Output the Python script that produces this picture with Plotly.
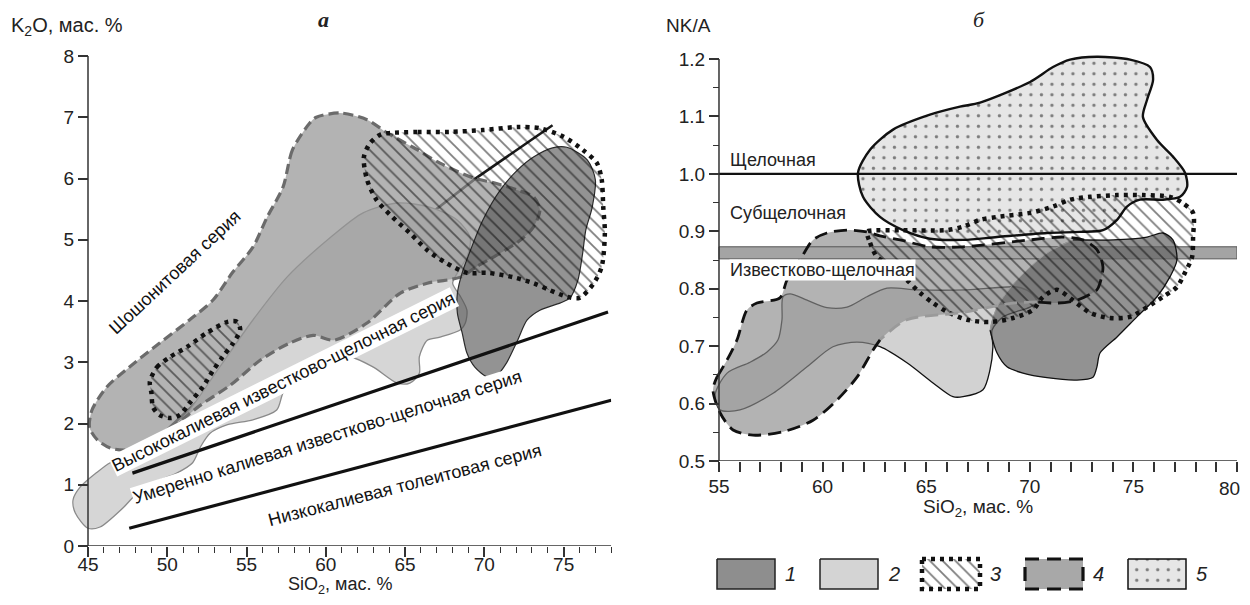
import plotly.graph_objects as go

FONT = "Liberation Sans, Arial, sans-serif"
SERIF = "Liberation Serif, DejaVu Serif, serif"

# ---------------- Panel a: K2O vs SiO2 ----------------
A_XTICKS = [45, 50, 55, 60, 65, 70, 75]
A_XMINOR = [46, 47, 48, 49, 51, 52, 53, 54, 56, 57, 58, 59, 61, 62, 63, 64,
            66, 67, 68, 69, 71, 72, 73, 74, 76, 77, 78]
A_YTICKS = [0, 1, 2, 3, 4, 5, 6, 7, 8]

# field 2 (light grey)
A2_X = [45.0, 45.76, 47.2, 48.5, 50.6, 51.6, 52.1, 52.7, 53.8, 55.4, 56.9, 57.3, 57.9, 58.8,
        59.6, 61.5, 63.0, 64.5, 65.3, 65.9, 65.9, 66.4, 67.2, 68.5, 68.8, 68.9, 68.5, 68.0,
        68.3, 68.9, 69.1, 68.3, 66.6, 64.5, 62.35, 60.3, 57.55, 55.4, 53.3, 51.25, 49.5,
        47.65, 46.4, 45.6, 44.5, 44.05, 44.2]
A2_Y = [0.29, 0.31, 0.62, 0.96, 1.19, 1.36, 1.62, 1.84, 1.98, 2.06, 2.22, 2.50, 2.71, 2.92,
        3.04, 3.09, 2.92, 2.66, 2.66, 2.82, 3.09, 3.36, 3.41, 3.53, 3.64, 3.85, 4.07, 4.29,
        4.46, 4.72, 5.04, 5.32, 5.53, 5.60, 5.44, 5.04, 4.39, 3.69, 2.92, 2.17, 1.73,
        1.49, 1.36, 1.21, 0.96, 0.75, 0.54]
# field 4 (grey, dashed)
A4_X = [59.0, 57.9, 57.3, 56.3, 55.4, 54.1, 52.9, 51.4, 49.5, 47.6, 46.2, 45.25, 45.1, 45.6,
        46.4, 47.5, 48.9, 50.5, 52.1, 54.0, 55.9, 57.7, 59.2, 60.5, 62.6, 64.7, 66.4, 68.5,
        69.5, 71.0, 72.3, 73.1, 73.5, 73.1, 72.1, 70.6, 69.3, 67.2, 65.5, 63.9, 62.6, 60.9, 59.4]
A4_Y = [6.91, 6.47, 5.86, 5.37, 4.88, 4.46, 4.02, 3.69, 3.31, 2.92, 2.60, 2.22, 1.93, 1.73,
        1.60, 1.57, 1.73, 1.98, 2.30, 2.63, 3.04, 3.31, 3.44, 3.36, 3.64, 4.13, 4.29, 4.39,
        4.56, 4.78, 5.00, 5.21, 5.49, 5.70, 5.81, 5.93, 6.01, 6.25, 6.51, 6.74, 6.96, 7.07, 7.00]
# field 1 (dark grey)
A1_X = [75.2, 76.5, 77.0, 76.8, 76.4, 76.2, 75.9, 75.4, 74.8, 73.5, 72.7, 72.1, 71.4, 70.8,
        70.2, 69.4, 68.9, 68.6, 68.3, 68.3, 68.6, 69.2, 69.9, 71.0, 72.1, 73.1, 74.3]
A1_Y = [6.51, 6.30, 5.98, 5.53, 5.16, 4.78, 4.34, 4.05, 3.97, 3.85, 3.69, 3.36, 2.99, 2.79,
        2.76, 2.92, 3.15, 3.48, 3.80, 4.13, 4.46, 4.88, 5.32, 5.81, 6.14, 6.35, 6.50]
# field 3 (hatched, dotted) - two parts
A3A_X = [63.9, 65.8, 67.8, 69.9, 72.1, 73.5, 75.0, 76.2, 77.1, 77.4, 77.5, 77.6, 77.4, 76.9,
         76.0, 75.2, 74.1, 73.1, 71.8, 70.2, 68.9, 67.6, 66.4, 65.3, 64.2, 63.2, 62.6, 62.4,
         62.8, 63.4]
A3A_Y = [6.74, 6.76, 6.76, 6.79, 6.84, 6.82, 6.68, 6.47, 6.25, 5.98, 5.53, 5.11, 4.56, 4.29,
         4.05, 4.07, 4.18, 4.29, 4.39, 4.46, 4.46, 4.62, 4.83, 5.11, 5.37, 5.65, 5.98, 6.35,
         6.58, 6.71]
A3B_X = [48.9, 49.35, 50.2, 51.25, 52.5, 53.8, 54.4, 54.6, 54.15, 53.5, 52.9, 52.25, 51.4,
         50.8, 50.2, 49.5, 49.1, 49.0]
A3B_Y = [2.68, 2.92, 3.09, 3.25, 3.48, 3.66, 3.66, 3.53, 3.31, 3.09, 2.87, 2.60, 2.33,
         2.14, 2.09, 2.14, 2.27, 2.50]
# series boundary lines
SHO_X = [48.3, 49.5, 56.5, 64.7, 69.5, 74.3]
SHO_Y = [1.57, 1.78, 3.48, 5.04, 6.01, 6.87]
HK_X = [47.8, 77.8]
HK_Y = [1.19, 3.82]
LK_X = [47.6, 78.0]
LK_Y = [0.29, 2.38]
A_LABELS = ["Шошонитовая серия", "Высококалиевая известково-щелочная серия",
            "Умеренно калиевая известково-щелочная серия", "Низкокалиевая толеитовая серия"]
A_LAB_X = [50.5, 57.3, 60.1, 65.0]
A_LAB_Y = [4.47, 2.68, 1.78, 1.00]
A_LAB_ANG = [-43, -26.5, -17.5, -14.5]

# ---------------- Panel б: NK/A vs SiO2 ----------------
B_XTICKS = [55, 60, 65, 70, 75, 80]
B_XMINOR = [56, 57, 58, 59, 61, 62, 63, 64, 66, 67, 68, 69, 71, 72, 73, 74, 76, 77, 78, 79]
B_YTICKS = [0.5, 0.6, 0.7, 0.8, 0.9, 1.0, 1.1, 1.2]
B_YMINOR = [0.55, 0.65, 0.75, 0.85, 0.95, 1.05, 1.15]

B2_X = [54.81, 55.39, 56.50, 57.32, 57.85, 58.04, 58.09, 58.43, 59.25, 60.21, 61.18, 62.14,
        63.11, 64.56, 66.97, 69.38, 70.01, 70.35, 70.01, 68.71, 68.18, 68.22, 68.08, 67.74,
        66.78, 66.29, 65.33, 64.07, 62.77, 61.66, 60.50, 59.25, 57.61, 56.01, 55.05]
B2_Y = [0.615, 0.653, 0.672, 0.690, 0.711, 0.746, 0.786, 0.791, 0.780, 0.767, 0.768, 0.786,
        0.801, 0.798, 0.798, 0.803, 0.794, 0.777, 0.768, 0.751, 0.728, 0.699, 0.659, 0.624,
        0.612, 0.612, 0.636, 0.671, 0.699, 0.707, 0.699, 0.664, 0.618, 0.589, 0.589]
B4_X = [54.90, 55.39, 55.87, 56.35, 56.83, 57.94, 58.28, 58.91, 59.54, 60.21, 61.18, 62.14,
        62.77, 63.74, 65.18, 66.78, 70.01, 71.60, 72.57, 73.24, 73.53, 73.39, 73.24, 72.28,
        71.31, 70.35, 69.19, 66.63, 64.07, 62.77, 62.43, 61.66, 60.69, 59.54, 58.09, 56.64,
        55.68, 55.05, 54.71]
B4_Y = [0.646, 0.676, 0.711, 0.763, 0.775, 0.784, 0.815, 0.850, 0.885, 0.897, 0.902, 0.899,
        0.892, 0.885, 0.873, 0.873, 0.885, 0.890, 0.885, 0.868, 0.838, 0.810, 0.798, 0.780,
        0.775, 0.777, 0.775, 0.758, 0.746, 0.711, 0.693, 0.646, 0.606, 0.571, 0.551, 0.545,
        0.554, 0.584, 0.624]
B4_GREY = (25, 29)  # indices of the outline part drawn in grey
B1_X = [68.08, 68.42, 69.38, 70.83, 72.08, 74.02, 75.66, 76.43, 76.91, 77.10, 76.77, 76.14,
        75.17, 74.21, 73.39, 73.24, 73.05, 72.28, 70.83, 69.67, 68.90, 68.42]
B1_Y = [0.728, 0.768, 0.815, 0.862, 0.885, 0.885, 0.890, 0.897, 0.885, 0.850, 0.821, 0.786,
        0.751, 0.716, 0.688, 0.664, 0.646, 0.641, 0.645, 0.653, 0.664, 0.688]
B3_X = [62.14, 62.29, 62.63, 63.25, 64.07, 64.70, 65.33, 66.00, 66.97, 68.08, 69.19, 70.15,
        70.64, 71.31, 72.08, 72.91, 73.87, 74.84, 75.66, 76.43, 77.10, 77.49, 77.83, 77.88,
        77.88, 77.39, 76.77, 75.46, 74.21, 72.91, 71.94, 71.12, 70.01, 68.42, 67.60, 66.78,
        66.00, 63.74, 62.29]
B3_Y = [0.899, 0.880, 0.855, 0.841, 0.815, 0.793, 0.775, 0.760, 0.746, 0.742, 0.749, 0.763,
        0.786, 0.798, 0.780, 0.758, 0.749, 0.751, 0.768, 0.786, 0.803, 0.828, 0.855, 0.890,
        0.932, 0.949, 0.960, 0.963, 0.963, 0.960, 0.955, 0.943, 0.932, 0.925, 0.920, 0.908,
        0.902, 0.902, 0.901]
B5_X = [66.63, 65.18, 63.40, 62.29, 61.71, 61.95, 62.77, 63.88, 65.18, 66.78, 68.42, 70.83,
        72.42, 73.53, 74.21, 74.69, 75.32, 76.43, 77.25, 77.59, 77.49, 76.91, 76.14, 75.46,
        75.66, 75.95, 75.80, 74.84, 73.24, 71.94, 71.12, 70.01, 67.60]
B5_Y = [1.117, 1.103, 1.077, 1.042, 1.002, 0.960, 0.925, 0.902, 0.887, 0.885, 0.890, 0.897,
        0.899, 0.902, 0.920, 0.943, 0.955, 0.955, 0.960, 0.977, 1.002, 1.030, 1.059, 1.099,
        1.129, 1.164, 1.186, 1.199, 1.204, 1.199, 1.186, 1.160, 1.124]
ALK_LINE = 1.0
BAND_LO, BAND_HI = 0.852, 0.873
B_LABELS = ["Щелочная", "Субщелочная", "Известково-щелочная"]
B_LAB_Y = [1.024, 0.932, 0.833]

LEGEND_NUMS = ["1", "2", "3", "4", "5"]

# ---------------- page geometry ----------------
# the page body has an 8 px margin, so the figure is sized to the remaining area and
# all layout positions below are given in page pixels and converted.
OFF = 8
W, H = 1250 - 2 * OFF, 605 - 2 * OFF


def px_x(px):
    return (px - OFF) / W


def px_y(py):
    return 1 - (py - OFF) / H


fig = go.Figure()


def closed(x, y):
    return list(x) + [x[0]], list(y) + [y[0]]


def field(x, y, xa, ya, fill, lcolor, lwidth, dash=None, pattern=None):
    cx, cy = closed(x, y)
    kw = {}
    if pattern is not None:
        kw["fillpattern"] = pattern
    fig.add_trace(go.Scatter(
        x=cx, y=cy, xaxis=xa, yaxis=ya, mode="lines", fill="toself",
        fillcolor=fill,
        line=dict(color=lcolor, width=lwidth, dash=dash, shape="spline", smoothing=0.8),
        hoverinfo="skip", showlegend=False, **kw))


def line(x, y, xa, ya, color, width, dash=None, spline=True):
    fig.add_trace(go.Scatter(
        x=x, y=y, xaxis=xa, yaxis=ya, mode="lines",
        line=dict(color=color, width=width, dash=dash,
                  shape="spline" if spline else "linear", smoothing=0.8),
        hoverinfo="skip", showlegend=False))


HATCH = dict(shape="\\", size=9, solidity=0.2, fgcolor="#000", bgcolor="rgba(0,0,0,0)")
DOTS = dict(shape=".", size=10.5, solidity=0.08, fgcolor="#111", bgcolor="#e6e6e6")
DOTTED = "4px,5px"

# ---- panel a traces ----
line(SHO_X, SHO_Y, "x", "y", "#1a1a1a", 2.6, spline=False)
field(A2_X, A2_Y, "x", "y", "#d6d6d6", "#8a8a8a", 1.3)
field(A4_X, A4_Y, "x", "y", "rgba(150,150,150,0.72)", "#6b6b6b", 3.2, dash="10px,5px")
field(A1_X, A1_Y, "x", "y", "rgba(80,80,80,0.62)", "#2a2a2a", 1.2)
field(A3A_X, A3A_Y, "x", "y", "rgba(0,0,0,0)", "#111", 4.5, dash=DOTTED, pattern=HATCH)
field(A3B_X, A3B_Y, "x", "y", "rgba(0,0,0,0)", "#111", 4.5, dash=DOTTED, pattern=HATCH)
line(HK_X, HK_Y, "x", "y", "#111", 3.2, spline=False)
line(LK_X, LK_Y, "x", "y", "#111", 3.2, spline=False)

# ---- panel б traces ----
field(B2_X, B2_Y, "x2", "y2", "#d2d2d2", "#111", 1.3)
field(B4_X, B4_Y, "x2", "y2", "rgba(140,140,140,0.66)", "rgba(0,0,0,0)", 0)
bx = [B_XTICKS[0], B_XTICKS[-1], B_XTICKS[-1], B_XTICKS[0]]
by = [BAND_LO, BAND_LO, BAND_HI, BAND_HI]
fig.add_trace(go.Scatter(x=bx + [bx[0]], y=by + [by[0]], xaxis="x2", yaxis="y2", mode="lines",
                         fill="toself", fillcolor="#a4a4a4", line=dict(color="#555", width=1),
                         hoverinfo="skip", showlegend=False))
field(B1_X, B1_Y, "x2", "y2", "rgba(100,100,100,0.7)", "rgba(0,0,0,0)", 0)
line(B1_X[4:] + [B1_X[0]], B1_Y[4:] + [B1_Y[0]], "x2", "y2", "#111", 1.3)
line(B1_X[:5], B1_Y[:5], "x2", "y2", "#9a9a9a", 1.0)
field(B5_X, B5_Y, "x2", "y2", "#e6e6e6", "#111", 2.4, pattern=DOTS)
field(B3_X, B3_Y, "x2", "y2", "rgba(0,0,0,0)", "#111", 4.5, dash=DOTTED, pattern=HATCH)
g0, g1 = B4_GREY
line(B4_X[:g0 + 1], B4_Y[:g0 + 1], "x2", "y2", "#111", 2.8, dash="13px,7px")
line(B4_X[g0:g1 + 1], B4_Y[g0:g1 + 1], "x2", "y2", "#9a9a9a", 2.8, dash="13px,7px")
line(B4_X[g1:] + [B4_X[0]], B4_Y[g1:] + [B4_Y[0]], "x2", "y2", "#111", 2.8, dash="13px,7px")
line([B_XTICKS[0], B_XTICKS[-1]], [ALK_LINE, ALK_LINE], "x2", "y2", "#111", 2.2, spline=False)

# ---- legend swatches (overlay axes in page pixels) ----
SW_X0 = [717, 820, 922, 1025, 1128]
SW_W = 58
SW_Y0, SW_Y1 = 559, 589
sw_styles = [
    dict(fill="#8e8e8e", lc="#222", lw=1.5, dash=None, pat=None),
    dict(fill="#d4d4d4", lc="#222", lw=1.5, dash=None, pat=None),
    dict(fill="rgba(0,0,0,0)", lc="#111", lw=4.5, dash=DOTTED, pat=HATCH),
    dict(fill="#a8a8a8", lc="#111", lw=3.2, dash="14px,8px", pat=None),
    dict(fill="#e6e6e6", lc="#111", lw=1.5, dash=None, pat=DOTS),
]
for x0, st, num in zip(SW_X0, sw_styles, LEGEND_NUMS):
    sx = [x0, x0 + SW_W, x0 + SW_W, x0, x0]
    sy = [SW_Y0, SW_Y0, SW_Y1, SW_Y1, SW_Y0]
    kw = {"fillpattern": st["pat"]} if st["pat"] else {}
    fig.add_trace(go.Scatter(x=sx, y=sy, xaxis="x3", yaxis="y3", mode="lines", fill="toself",
                             fillcolor=st["fill"],
                             line=dict(color=st["lc"], width=st["lw"], dash=st["dash"]),
                             hoverinfo="skip", showlegend=False, **kw))
    fig.add_annotation(x=x0 + SW_W + 8, y=(SW_Y0 + SW_Y1) / 2, xref="x3", yref="y3",
                       text=f"<i>{num}</i>", showarrow=False, xanchor="left",
                       font=dict(family=FONT, size=20, color="#222"))

# ---- annotations ----
for t, x, y, a in zip(A_LABELS, A_LAB_X, A_LAB_Y, A_LAB_ANG):
    kw = {"bgcolor": "white"} if ("известково" in t) else {}
    fig.add_annotation(x=x, y=y, xref="x", yref="y", text=t, textangle=a, showarrow=False,
                       borderpad=0, font=dict(family=FONT, size=18, color="#111"), **kw)
for i, (t, y) in enumerate(zip(B_LABELS, B_LAB_Y)):
    kw = {"bgcolor": "white"} if i == 2 else {}
    fig.add_annotation(x=55.5, y=y, xref="x2", yref="y2", text=t, showarrow=False,
                       xanchor="left", borderpad=0,
                       font=dict(family=FONT, size=18, color="#222"), **kw)


def paper_ann(text, px, py, anchor="center", font=FONT, size=19):
    fig.add_annotation(x=px_x(px), y=px_y(py), xref="paper", yref="paper", text=text,
                       showarrow=False, xanchor=anchor, yanchor="middle",
                       font=dict(family=font, size=size, color="#222"))


paper_ann("K<sub>2</sub>O, мас. %", 9, 27, anchor="left", size=20)
paper_ann("<b><i>а</i></b>", 323, 20, font=SERIF, size=22)
paper_ann("NK/A", 664, 26, anchor="left")
paper_ann("<i>б</i>", 979, 20, font=SERIF, size=22)
paper_ann("SiO<sub>2</sub>, мас. %", 340, 585, size=18)
paper_ann("SiO<sub>2</sub>, мас. %", 978, 508)
# last tick label of panel б sits at the page edge; keep it fully visible
fig.add_annotation(x=1, y=px_y(488), xref="paper", yref="paper", text=str(B_XTICKS[-1]),
                   showarrow=False, xanchor="right", yanchor="middle",
                   font=dict(family=FONT, size=19, color="#222"))

# ---- axis lines as shapes ----
AX = dict(color="#333", width=1.5)
fig.add_shape(type="line", xref="x", yref="y", x0=A_XTICKS[0], x1=A_XMINOR[-1], y0=0, y1=0, line=AX)
fig.add_shape(type="line", xref="x", yref="y", x0=A_XTICKS[0], x1=A_XTICKS[0], y0=0, y1=A_YTICKS[-1], line=AX)
fig.add_shape(type="line", xref="x2", yref="y2", x0=B_XTICKS[0], x1=B_XTICKS[-1], y0=B_YTICKS[0], y1=B_YTICKS[0], line=AX)
fig.add_shape(type="line", xref="x2", yref="y2", x0=B_XTICKS[0], x1=B_XTICKS[0], y0=B_YTICKS[0], y1=B_YTICKS[-1], line=AX)

tickfont = dict(family=FONT, size=19, color="#222")
common = dict(showgrid=False, zeroline=False, showline=False, ticks="outside", ticklen=10,
              tickwidth=1.5, tickcolor="#333", tickfont=tickfont, fixedrange=True,
              automargin=False)
minor = dict(ticks="outside", ticklen=6, tickwidth=1.2, tickcolor="#333")

# panel б y range extends a touch above 1.2 so the top of field 5 is not clipped
B_YMAX = 1.22
b_top_px = 59 - (B_YMAX - 1.2) * 574

fig.update_layout(
    width=W, height=H, margin=dict(l=0, r=0, t=0, b=0, autoexpand=False),
    paper_bgcolor="white", plot_bgcolor="rgba(0,0,0,0)", showlegend=False,
    xaxis=dict(domain=[px_x(72.15), px_x(611.2)], range=[44, 78], anchor="y",
               tickvals=A_XTICKS, ticklabelstandoff=-9,
               minor=dict(tickvals=A_XMINOR, **minor), **common),
    yaxis=dict(domain=[px_y(546), px_y(56)], range=[0, 8], anchor="free", position=px_x(88),
               tickvals=A_YTICKS, **common),
    xaxis2=dict(domain=[px_x(710.7), px_x(1237)], range=[54.6, 80], anchor="y2",
                tickvals=B_XTICKS[:-1], ticklabelstandoff=-2,
                minor=dict(tickvals=B_XMINOR + [B_XTICKS[-1]], ticks="outside", ticklen=10,
                           tickwidth=1.5, tickcolor="#333"), **common),
    yaxis2=dict(domain=[px_y(461), px_y(b_top_px)], range=[0.5, B_YMAX], anchor="free",
                position=px_x(719), tickvals=B_YTICKS, tickformat=".1f",
                minor=dict(tickvals=B_YMINOR, **minor), **common),
    xaxis3=dict(domain=[0, 1], range=[OFF, OFF + W], visible=False, anchor="y3", fixedrange=True),
    yaxis3=dict(domain=[0, 1], range=[OFF + H, OFF], visible=False, anchor="x3", fixedrange=True),
)

fig.write_html("out.html")
